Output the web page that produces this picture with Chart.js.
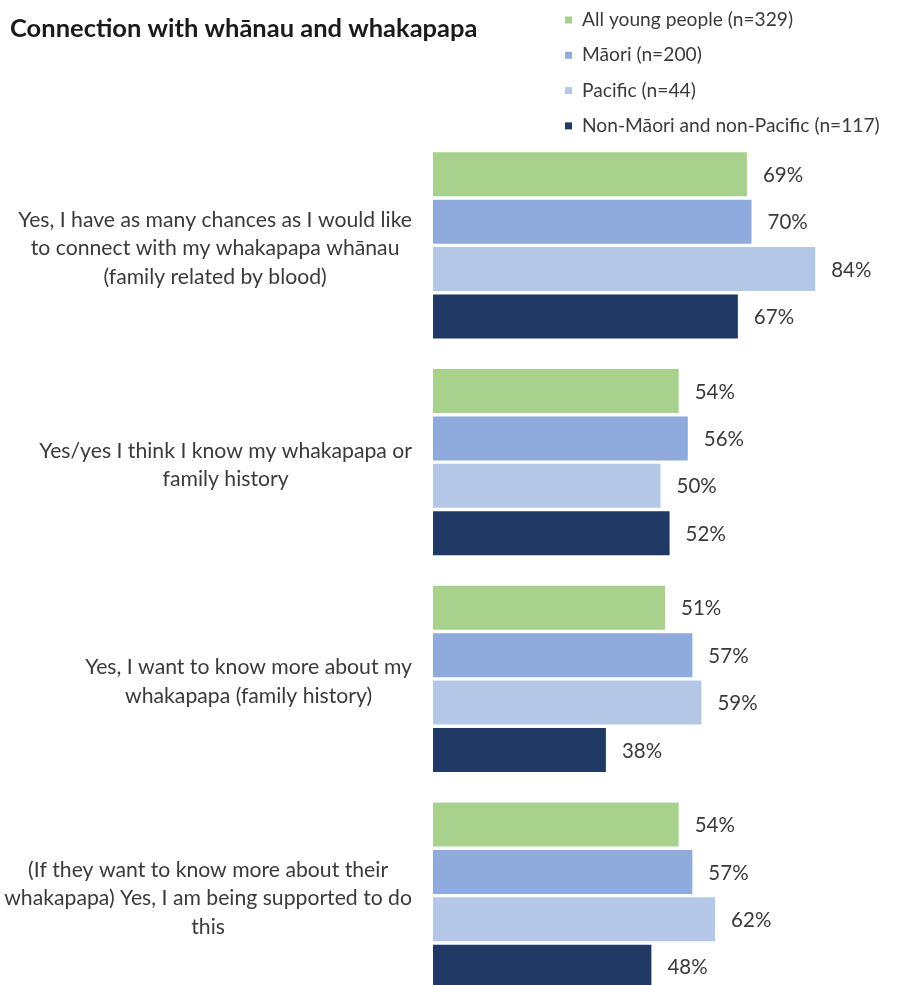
<!DOCTYPE html>
<html>
<head>
<meta charset="utf-8">
<script src="https://cdn.jsdelivr.net/npm/chart.js@4.4.1/dist/chart.umd.min.js"></script>
<style>
  html, body { margin: 0; padding: 0; background: #fff; overflow: hidden; }
  #wrap { width: 906px; height: 1004px; }
</style>
</head>
<body>
<div id="wrap"><canvas id="whakapapaChart" width="906" height="1004"></canvas></div>
<script>
// === Данные ===
const chartTitle = 'Connection with whānau and whakapapa';

const categories = [
    ['Yes, I have as many chances as I would like', 'to connect with my whakapapa whānau', '(family related by blood)'],
    ['Yes/yes I think I know my whakapapa or', 'family history'],
    ['Yes, I want to know more about my', 'whakapapa (family history)'],
    ['(If they want to know more about their', 'whakapapa) Yes, I am being supported to do', 'this']
];

const seriesNames = [
    'All young people (n=329)',
    'Māori (n=200)',
    'Pacific (n=44)',
    'Non-Māori and non-Pacific (n=117)'
];

const allYoung = [69, 54, 51, 54];
const maori = [70, 56, 57, 57];
const pacific = [84, 50, 59, 62];
const nonMaoriPacific = [67, 52, 38, 48];

const colors = ['#A9D18E', '#8FAADC', '#B4C7E7', '#203864'];

const FONT = 'Lato, "Noto Sans", sans-serif';
const TEXT_COLOR = '#3a3a3a';

// === Подписи категорий, значения, заголовок и легенда ===
const annotatePlugin = {
    id: 'annotate',
    afterDatasetsDraw(chart) {
        const ctx = chart.ctx;
        const yScale = chart.scales.y;
        ctx.save();

        // значения справа от столбцов
        ctx.font = '20.5px ' + FONT;
        ctx.fillStyle = TEXT_COLOR;
        ctx.textAlign = 'left';
        ctx.textBaseline = 'middle';
        chart.data.datasets.forEach((ds, di) => {
            const meta = chart.getDatasetMeta(di);
            meta.data.forEach((bar, i) => {
                ctx.fillText(ds.data[i] + '%', bar.x + 16, bar.y + 1);
            });
        });

        // подписи категорий: блок прижат вправо, строки по центру блока
        ctx.font = '21.2px ' + FONT;
        const lineH = 28.5;
        categories.forEach((lines, i) => {
            const cy = yScale.getPixelForValue(i) + 3;
            const widest = Math.max(...lines.map(l => ctx.measureText(l).width));
            const cx = 412 - widest / 2;
            ctx.textAlign = 'center';
            lines.forEach((line, k) => {
                ctx.fillText(line, cx, cy + (k - (lines.length - 1) / 2) * lineH);
            });
        });

        // заголовок
        ctx.font = 'bold 25.5px ' + FONT;
        ctx.fillStyle = '#1a1a1a';
        ctx.textAlign = 'left';
        ctx.fillText(chartTitle, 10, 29);

        // легенда
        ctx.font = '19.2px ' + FONT;
        chart.data.datasets.forEach((ds, di) => {
            const y = 20 + di * 35.3;
            ctx.fillStyle = ds.backgroundColor;
            ctx.fillRect(565, y - 3.5, 7, 7);
            ctx.fillStyle = TEXT_COLOR;
            ctx.fillText(ds.label, 582, y);
        });

        ctx.restore();
    }
};

const seriesData = [allYoung, maori, pacific, nonMaoriPacific];

const ctx = document.getElementById('whakapapaChart').getContext('2d');
const whakapapaChart = new Chart(ctx, {
    type: 'bar',
    data: {
        labels: categories.map(c => c.join(' ')),
        datasets: seriesNames.map((name, i) => ({
            label: name,
            data: seriesData[i],
            backgroundColor: colors[i],
            borderWidth: 0,
            categoryPercentage: 0.874,
            barPercentage: 0.93
        }))
    },
    options: {
        indexAxis: 'y',
        responsive: false,
        animation: false,
        layout: { padding: { left: 433, right: 18, top: 137, bottom: 0 } },
        scales: {
            x: { min: 0, max: 100, display: false },
            y: { display: false }
        },
        plugins: {
            legend: { display: false },
            title: { display: false },
            tooltip: { enabled: false }
        }
    },
    plugins: [annotatePlugin]
});
</script>
</body>
</html>
